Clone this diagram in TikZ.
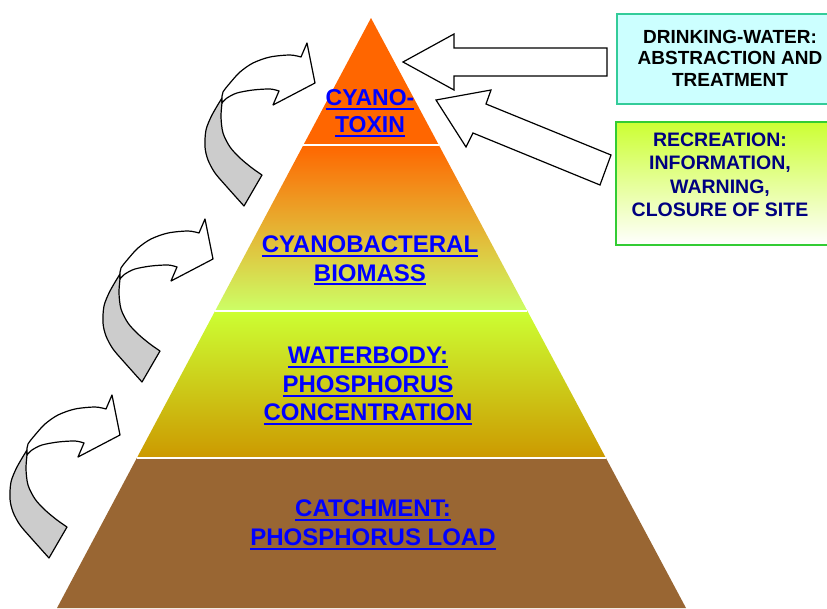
\documentclass[tikz,border=0pt]{standalone}
\usepackage{fontspec}
\setsansfont{Liberation Sans}
\usetikzlibrary{calc}
\definecolor{linkblue}{HTML}{0000FF}
\definecolor{navytext}{HTML}{000080}
\definecolor{toxinorange}{HTML}{FF6600}
\definecolor{biomassmid}{HTML}{EBB445}
\definecolor{biomasslow}{HTML}{CCFF66}
\definecolor{waterhigh}{HTML}{CCFF33}
\definecolor{waterlow}{HTML}{CC9900}
\definecolor{soilbrown}{HTML}{996633}
\definecolor{drinkfill}{HTML}{CCFFFF}
\definecolor{drinkline}{HTML}{33CC99}
\definecolor{recline}{HTML}{33CC33}
\definecolor{recfill}{HTML}{CCFF33}
\definecolor{twistgray}{HTML}{CCCCCC}
\newcommand{\ulline}[1]{\vtop{\hbox{#1}\kern2pt\hrule height 2pt}}
\tikzset{
  layertext/.style={inner sep=0pt,align=center,text=linkblue,font=\sffamily\bfseries\fontsize{24}{28.5}\selectfont},
  boxtext/.style={inner sep=0pt,align=center,font=\sffamily\bfseries\fontsize{19}{21.5}\selectfont},
  sepline/.style={draw=white,line width=1.3pt},
  blockarrow/.style={draw=black,fill=white,line width=1.2pt,line join=miter},
  twistfront/.style={draw=black,fill=white,line width=1.2pt,line join=round},
  twistback/.style={draw=black,fill=twistgray,line width=1.2pt,line join=round}
}

\begin{document}
\begin{tikzpicture}[x=1pt,y=-1pt]
  \useasboundingbox (0,0) rectangle (827,608);
  \clip (0,0) rectangle (827,608);
  % pyramid layers
  \coordinate (apex) at (371,18);
  \coordinate (bl) at (57,608);
  \coordinate (br) at (686,608);
  \coordinate (l1) at ($(apex)!0.2153!(bl)$);
  \coordinate (r1) at ($(apex)!0.2153!(br)$);
  \coordinate (l2) at ($(apex)!0.4966!(bl)$);
  \coordinate (r2) at ($(apex)!0.4966!(br)$);
  \coordinate (l3) at ($(apex)!0.7458!(bl)$);
  \coordinate (r3) at ($(apex)!0.7458!(br)$);
  \fill[toxinorange] (apex) -- (r1) -- (l1) -- cycle;
  \shade[top color=toxinorange,middle color=biomassmid,bottom color=biomasslow] (l1) -- (r1) -- (r2) -- (l2) -- cycle;
  \shade[top color=waterhigh,bottom color=waterlow] (l2) -- (r2) -- (r3) -- (l3) -- cycle;
  \fill[soilbrown] (l3) -- (r3) -- (br) -- (bl) -- cycle;
  \foreach \i in {1,2,3}{\draw[sepline] (l\i) -- (r\i);}
  \node[layertext,font=\sffamily\bfseries\fontsize{23}{27}\selectfont] (toxin) at (370,113) {\ulline{CYANO-}\\\ulline{TOXIN}};
  \node[layertext] (biomass) at (370,260.5) {\ulline{CYANOBACTERAL}\\\ulline{BIOMASS}};
  \node[layertext] (waterbody) at (368,386) {\ulline{WATERBODY:}\\\ulline{PHOSPHORUS}\\\ulline{CONCENTRATION}};
  \node[layertext,font=\sffamily\bfseries\fontsize{24}{29}\selectfont] (catchment) at (373,524.5) {\ulline{CATCHMENT:}\\\ulline{PHOSPHORUS LOAD}};
  % curved arrows up the left side
  \foreach \dx/\dy in {0/0,-102/176,-195/352}{
    \begin{scope}[shift={(\dx,\dy)}]
      \filldraw[twistback] plot[smooth] coordinates {(222,98) (212,115) (206,130) (205,147) (208,160) (215,173) (227,187) (244,206)}
        -- (262,175) -- plot[smooth] coordinates {(262,175) (252,168) (240,158) (230,147) (223,133) (221,117) (222,103)} -- cycle;
      \filldraw[twistfront] (301,57) -- (307,43) -- (315,83) -- (273,105) -- (279,91)
        -- plot[smooth] coordinates {(279,91) (270,89) (253,90) (237,93) (227,98) (222,103)}
        -- plot[smooth] coordinates {(222,98) (223,92) (230,83) (240,72) (253,63) (270,57) (290,55) (301,57)} -- cycle;
    \end{scope}
  }
  % block arrows from the boxes
  \draw[blockarrow] (607,48) -- (454,48) -- (454,34) -- (403,62) -- (454,90) -- (454,76) -- (607,76) -- cycle;
  \draw[blockarrow] (611,155) -- (486,104) -- (491,90) -- (436,100) -- (466,147) -- (473,133) -- (600,185) -- cycle;
  % boxes
  \draw[draw=drinkline,fill=drinkfill,line width=2pt] (617,14) rectangle (850,104);
  \node[boxtext] (drinking) at (730,58) {DRINKING-WATER:\\ABSTRACTION AND\\TREATMENT};
  \draw[draw=recline,top color=recfill,bottom color=white,line width=2pt] (616,122) rectangle (850,245);
  \node[boxtext,text=navytext,font=\sffamily\bfseries\fontsize{19.5}{23.5}\selectfont] (recreation) at (720,175) {RECREATION:\\INFORMATION,\\WARNING,\\CLOSURE OF SITE};
\end{tikzpicture}
\end{document}
